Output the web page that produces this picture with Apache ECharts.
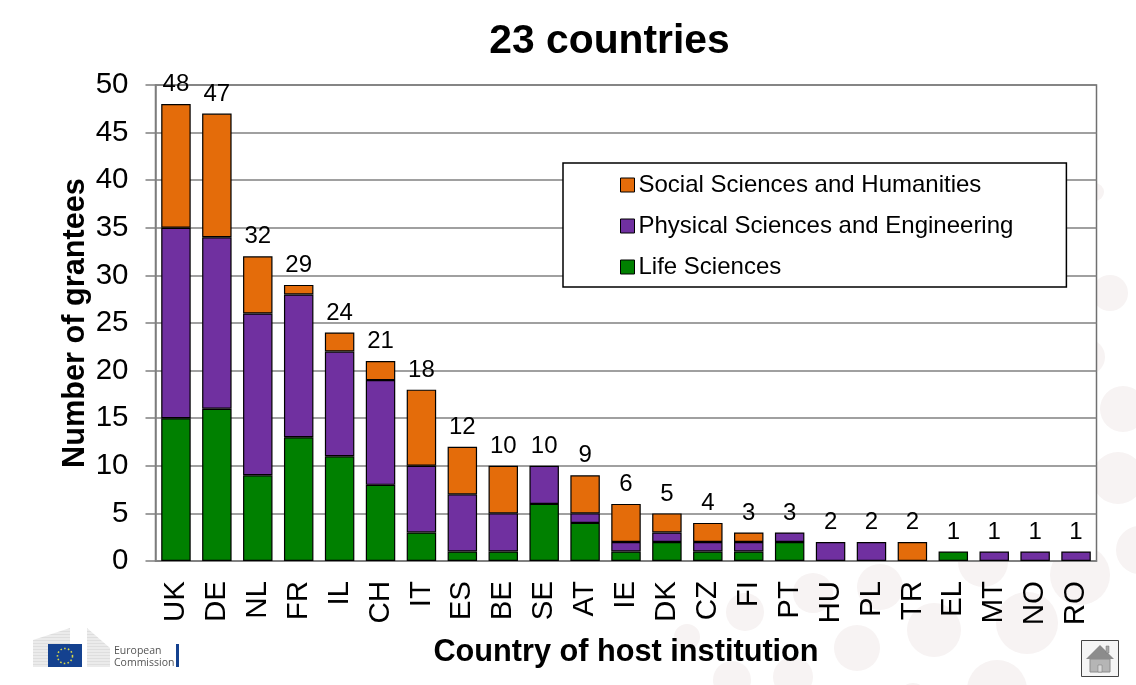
<!DOCTYPE html>
<html lang="en">
<head>
    <meta charset="UTF-8">
    <title>23 countries</title>
    <script src="https://cdn.jsdelivr.net/npm/echarts@6/dist/echarts.min.js"></script>
    <style>
        html, body { margin: 0; padding: 0; background: #fff; }
        #main { width: 1136px; height: 685px; }
    </style>
</head>
<body>
<div id="main"></div>
<script type="text/javascript">
    var countries = ['UK','DE','NL','FR','IL','CH','IT','ES','BE','SE','AT','IE','DK','CZ','FI','PT','HU','PL','TR','EL','MT','NO','RO'];
    var lifeSciences = [15,16,9,13,11,8,3,1,1,6,4,1,2,1,1,2,0,0,0,1,0,0,0];
    var physicalSciences = [20,18,17,15,11,11,7,6,4,4,1,1,1,1,1,1,2,2,0,0,1,1,1];
    var socialSciences = [13,13,6,1,2,2,8,5,5,0,4,4,2,2,1,0,0,0,2,0,0,0,0];
    var totals = [48,47,32,29,24,21,18,12,10,10,9,6,5,4,3,3,2,2,2,1,1,1,1];

    var font = '"Liberation Sans", Arial, sans-serif';

    // pale dots of the slide background
    var dots = [
        [1095,192,9],[1110,293,18],[1087,357,18],[1123,409,23],[1118,478,26],[1140,550,24],
        [1080,575,30],[983,562,25],[880,587,23],[813,593,20],[745,612,19],[1027,623,31],
        [934,630,27],[857,648,23],[687,637,13],[732,680,19],[793,677,20],[997,690,30],[913,698,15]
    ];

    function barSeries(name, values, color) {
        return {
            name: name,
            type: 'bar',
            stack: 'grantees',
            data: values.map(function (v) { return v === 0 ? null : v; }),
            barWidth: '72%',
            itemStyle: { color: color, borderColor: '#000', borderWidth: 1.2 }
        };
    }

    var graphics = dots.map(function (d) {
        return { type: 'circle', z: -10, silent: true, shape: { cx: d[0], cy: d[1], r: d[2] }, style: { fill: '#f7f3f3' } };
    });

    // European Commission logo
    graphics.push(
        { type: 'polygon', z: 1, shape: { points: [[33,640],[70,628],[70,667],[33,667]] }, style: { fill: '#dedede' } },
        { type: 'polygon', z: 1, shape: { points: [[87,628],[110,648],[110,667],[87,667]] }, style: { fill: '#dedede' } }
    );
    for (var ly = 630; ly < 667; ly += 3) {
        graphics.push({ type: 'line', z: 2, shape: { x1: 33, y1: ly, x2: 110, y2: ly }, style: { stroke: '#fff', lineWidth: 0.8 } });
    }
    graphics.push(
        { type: 'rect', z: 2, shape: { x: 70, y: 626, width: 17, height: 18 }, style: { fill: '#fff' } },
        { type: 'rect', z: 3, shape: { x: 48, y: 644, width: 34, height: 23 }, style: { fill: '#14418f' } },
        { type: 'circle', z: 4, shape: { cx: 65, cy: 656, r: 7.5 }, style: { fill: 'none', stroke: '#d9d84a', lineWidth: 1.6, lineDash: [1.6, 2.2] } },
        { type: 'text', z: 3, style: { x: 114, y: 646, text: 'European', font: '10.5px "Open Sans", sans-serif', fill: '#555' } },
        { type: 'text', z: 3, style: { x: 114, y: 658, text: 'Commission', font: '10.5px "Open Sans", sans-serif', fill: '#555' } },
        { type: 'rect', z: 3, shape: { x: 176, y: 644, width: 3, height: 23 }, style: { fill: '#14418f' } },
        { type: 'rect', z: 5, shape: { x: 30, y: 667, width: 152, height: 8 }, style: { fill: '#fff' } }
    );

    // home button
    graphics.push(
        { type: 'rect', z: 3, shape: { x: 1081.5, y: 640.5, width: 37, height: 36 }, style: { fill: '#f5f5f5', stroke: '#444', lineWidth: 1 } },
        { type: 'polygon', z: 4, shape: { points: [[1086,659],[1100,645],[1114,659]] }, style: { fill: '#8c8c8c' } },
        { type: 'rect', z: 4, shape: { x: 1106, y: 646, width: 3, height: 7 }, style: { fill: '#a8a8a8', stroke: '#777', lineWidth: 0.5 } },
        { type: 'rect', z: 4, shape: { x: 1090, y: 659, width: 20, height: 13 }, style: { fill: '#b5b5b5', stroke: '#8c8c8c', lineWidth: 1 } },
        { type: 'rect', z: 5, shape: { x: 1098, y: 665, width: 4, height: 7 }, style: { fill: '#d8d8d8', stroke: '#777', lineWidth: 0.5 } }
    );

    var myChart = echarts.init(document.getElementById('main'));
    myChart.setOption({
        animation: false,
        backgroundColor: '#fff',
        textStyle: { fontFamily: font },
        title: {
            text: '23 countries',
            left: 604.5,
            top: 16,
            textAlign: 'center',
            textStyle: { fontSize: 40.8, fontWeight: 'bold', color: '#000', fontFamily: font }
        },
        grid: {
            left: 155.5,
            top: 85,
            width: 941,
            height: 476,
            show: true,
            backgroundColor: '#fff',
            borderColor: '#707070',
            borderWidth: 1.5
        },
        legend: {
            data: ['Social Sciences and Humanities', 'Physical Sciences and Engineering', 'Life Sciences'],
            left: 563,
            top: 163,
            orient: 'vertical',
            align: 'left',
            padding: [10, 53, 8, 57],
            itemGap: 17,
            itemWidth: 14,
            itemHeight: 14,
            icon: 'rect',
            itemStyle: { borderColor: '#000', borderWidth: 1 },
            backgroundColor: '#fff',
            borderColor: '#000',
            borderWidth: 1.5,
            selectedMode: false,
            textStyle: { fontSize: 24, color: '#000', fontFamily: font, padding: [0, 0, 0, -1] }
        },
        xAxis: {
            type: 'category',
            data: countries,
            name: 'Country of host institution',
            nameLocation: 'middle',
            nameGap: 76,
            nameTextStyle: { fontSize: 30.7, fontWeight: 'bold', color: '#000', fontFamily: font },
            axisLine: { lineStyle: { color: '#808080', width: 1.5 } },
            axisTick: { length: 10, lineStyle: { color: '#808080', width: 1.5 } },
            axisLabel: { rotate: 90, fontSize: 29.5, color: '#000', margin: 20, fontFamily: font }
        },
        yAxis: {
            type: 'value',
            min: 0,
            max: 50,
            interval: 5,
            name: 'Number of grantees',
            nameLocation: 'middle',
            nameGap: 64,
            nameMoveOverlap: false,
            nameTextStyle: { fontSize: 30.7, fontWeight: 'bold', color: '#000', fontFamily: font },
            axisLine: { show: true, lineStyle: { color: '#808080', width: 1.5 } },
            axisTick: { show: true, length: 10, lineStyle: { color: '#808080', width: 1.5 } },
            splitLine: { show: true, lineStyle: { color: '#808080', width: 1.5 } },
            axisLabel: {
                margin: 27,
                formatter: '{n|{value}}',
                rich: { n: { fontSize: 29.5, color: '#000', fontFamily: font, height: 34, verticalAlign: 'bottom' } }
            }
        },
        graphic: graphics,
        series: [
            barSeries('Life Sciences', lifeSciences, '#008000'),
            barSeries('Physical Sciences and Engineering', physicalSciences, '#7030a0'),
            barSeries('Social Sciences and Humanities', socialSciences, '#e46c0a'),
            {
                name: 'Total',
                type: 'line',
                data: totals,
                symbol: 'circle',
                symbolSize: 1,
                silent: true,
                itemStyle: { color: 'rgba(0,0,0,0)' },
                lineStyle: { opacity: 0 },
                z: 10,
                label: { show: true, position: 'top', distance: 7, fontSize: 24, color: '#000', fontFamily: font }
            }
        ]
    });
</script>
</body>
</html>
